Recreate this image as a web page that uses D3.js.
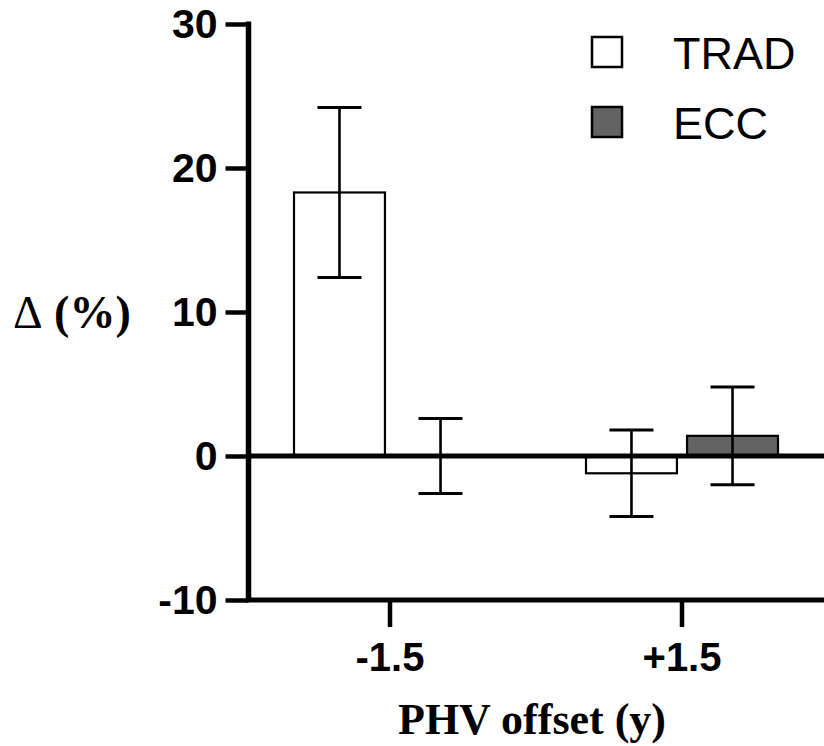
<!DOCTYPE html>
<html>
<head>
<meta charset="utf-8">
<script src="https://cdn.jsdelivr.net/npm/d3@7"></script>
<style>
  body { margin: 0; background: #fff; }
  svg { display: block; }
</style>
</head>
<body>
<div id="chart"></div>
<script>
// Data
var groups = ["-1.5", "+1.5"];
var series = ["TRAD", "ECC"];
var tradMean = [18.3, -1.2];
var tradErr = [5.9, 3.0];
var eccMean = [0.0, 1.4];
var eccErr = [2.6, 3.4];
var yTicks = [-10, 0, 10, 20, 30];

var svgWidth = 824;
var svgHeight = 746;

var svg = d3.select("#chart")
  .append("svg")
  .attr("width", svgWidth)
  .attr("height", svgHeight);

// Scales
var y = d3.scaleLinear()
  .domain([-10, 30])
  .range([600, 24]);

var x = d3.scaleBand()
  .domain(groups)
  .range([244, 828])
  .padding(0);

var xSub = d3.scaleBand()
  .domain(series)
  .range([-96, 96])
  .paddingInner(0.1);

var fills = { TRAD: "#ffffff", ECC: "#636363" };

// rows for drawing
var rows = [];
groups.forEach(function(g, i) {
  rows.push({ group: g, key: "TRAD", mean: tradMean[i], err: tradErr[i] });
  rows.push({ group: g, key: "ECC", mean: eccMean[i], err: eccErr[i] });
});

function cx(d) {
  return x(d.group) + x.bandwidth() / 2 + xSub(d.key) + xSub.bandwidth() / 2;
}

// Bars
svg.selectAll("rect.bar")
  .data(rows)
  .enter()
  .append("rect")
  .attr("class", "bar")
  .attr("x", function(d) { return x(d.group) + x.bandwidth() / 2 + xSub(d.key); })
  .attr("width", xSub.bandwidth())
  .attr("y", function(d) { return y(Math.max(0, d.mean)); })
  .attr("height", function(d) { return Math.abs(y(d.mean) - y(0)); })
  .attr("fill", function(d) { return fills[d.key]; })
  .attr("stroke", "#000")
  .attr("stroke-width", 2.2);

// Error bars
var errs = svg.selectAll("g.err")
  .data(rows)
  .enter()
  .append("g")
  .attr("class", "err")
  .attr("stroke", "#000")
  .attr("stroke-width", 2.6);

errs.append("line")
  .attr("x1", cx).attr("x2", cx)
  .attr("y1", function(d) { return y(d.mean + d.err); })
  .attr("y2", function(d) { return y(d.mean - d.err); });

errs.append("line")
  .attr("x1", function(d) { return cx(d) - 22; })
  .attr("x2", function(d) { return cx(d) + 22; })
  .attr("y1", function(d) { return y(d.mean + d.err); })
  .attr("y2", function(d) { return y(d.mean + d.err); })
  .attr("stroke-width", 3);

errs.append("line")
  .attr("x1", function(d) { return cx(d) - 22; })
  .attr("x2", function(d) { return cx(d) + 22; })
  .attr("y1", function(d) { return y(d.mean - d.err); })
  .attr("y2", function(d) { return y(d.mean - d.err); })
  .attr("stroke-width", 3);

// zero line
svg.append("line")
  .attr("x1", 248).attr("x2", svgWidth)
  .attr("y1", y(0)).attr("y2", y(0))
  .attr("stroke", "#000")
  .attr("stroke-width", 5);

// Y axis (plain hyphen for negatives, like the original)
var leftAxis = d3.axisLeft(y)
  .tickValues(yTicks)
  .tickFormat(function(d) { return String(d); })
  .tickSize(23).tickPadding(8).tickSizeOuter(0);
var gy = svg.append("g")
  .attr("transform", "translate(248.5,0)")
  .call(leftAxis);
gy.select(".domain").attr("stroke-width", 5.5).attr("d", "M0," + (y(30) - 2.5) + "V" + y(-10));
gy.selectAll(".tick line").attr("stroke-width", 4.5);
gy.selectAll(".tick text")
  .attr("font-family", "'Liberation Sans', Arial, sans-serif")
  .attr("font-weight", "bold")
  .attr("font-size", 41)
  .attr("fill", "#000");

// X axis
var bottomAxis = d3.axisBottom(x).tickSize(27).tickPadding(16).tickSizeOuter(0);
var gx = svg.append("g")
  .attr("transform", "translate(0,600)")
  .call(bottomAxis);
gx.select(".domain").attr("stroke-width", 5).attr("d", "M246,0H" + svgWidth);
gx.selectAll(".tick line").attr("stroke-width", 4.5);
gx.selectAll(".tick text")
  .attr("font-family", "'Liberation Sans', Arial, sans-serif")
  .attr("font-weight", "bold")
  .attr("font-size", 40)
  .attr("fill", "#000");

// Axis titles
svg.append("text")
  .attr("x", 532)
  .attr("y", 734)
  .attr("text-anchor", "middle")
  .attr("font-family", "'Liberation Serif', 'Times New Roman', serif")
  .attr("font-weight", "bold")
  .attr("font-size", 44)
  .text("PHV offset (y)");

var yt = svg.append("text")
  .attr("x", 13)
  .attr("y", 328)
  .attr("font-family", "'Liberation Serif', 'Times New Roman', serif")
  .attr("font-weight", "bold")
  .attr("font-size", 46);
yt.append("tspan").attr("font-weight", "normal").text("\u0394");
yt.append("tspan").text(" (%)");

// Legend
var legend = svg.selectAll("g.legend")
  .data(series)
  .enter()
  .append("g")
  .attr("class", "legend")
  .attr("transform", function(d, i) { return "translate(592," + (37 + i * 70) + ")"; });

legend.append("rect")
  .attr("width", 30)
  .attr("height", 30)
  .attr("fill", function(d) { return fills[d]; })
  .attr("stroke", "#000")
  .attr("stroke-width", 2.5);

legend.append("text")
  .attr("x", 81)
  .attr("y", 32)
  .attr("font-family", "'Liberation Sans', Arial, sans-serif")
  .attr("font-size", 45)
  .text(function(d) { return d; });
</script>
</body>
</html>
